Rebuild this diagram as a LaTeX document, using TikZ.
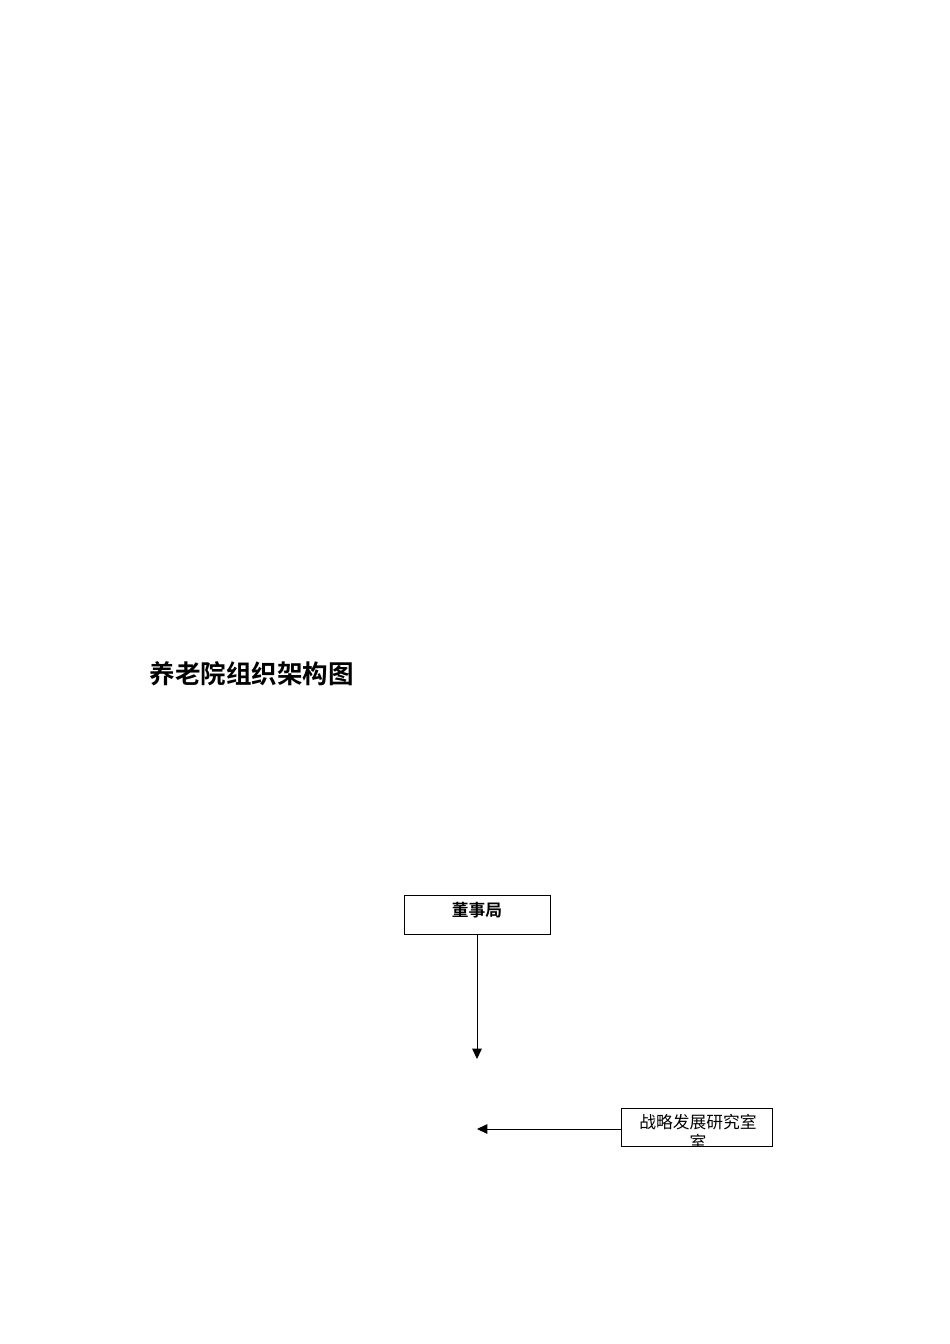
\documentclass[tikz,border=0pt]{standalone}
\usepackage{fontspec}
\setmainfont{Liberation Serif}
\newfontfamily\cjk{Noto Sans CJK SC}
\newfontfamily\cjkbold{Noto Sans CJK SC Bold}
\usetikzlibrary{arrows.meta, positioning, calc}

\begin{document}
\begin{tikzpicture}[x=0.6266pt, y=-0.6266pt,
    deptbox/.style={draw, line width=0.6pt, inner sep=0pt},
    link/.style={-{Triangle[width=6pt, length=6.5pt]}, line width=0.6pt}]
    \useasboundingbox (0,0) rectangle (950,1344);

    \node[anchor=west, font=\cjkbold\fontsize{16}{19}\selectfont] (title) at (144,674) {养老院组织架构图};

    \node[deptbox, minimum width=91.5pt, minimum height=24.4pt] (dongshiju) at (477,914.5) {};
    \node[font=\cjkbold\fontsize{10.5}{12}\selectfont] (dongshijutext) at (477,910) {董事局};
    \coordinate (end1) at (477,1059);
    \draw[link] (dongshiju) -- (end1);

    \node[deptbox, minimum width=95.2pt, minimum height=23.8pt] (yanjiushi) at (697,1127) {};
    \begin{scope}
        \clip (yanjiushi.south west) rectangle (yanjiushi.north east);
        \node[align=center, inner sep=0pt, anchor=north, font=\cjk\fontsize{10.5}{12.2}\selectfont] (yanjiushitext) at (698,1114) {战略发展研究室\\室};
    \end{scope}
    \coordinate (end2) at (477,1129);
    \draw[link] (yanjiushi.west |- end2) -- (end2);
\end{tikzpicture}
\end{document}
